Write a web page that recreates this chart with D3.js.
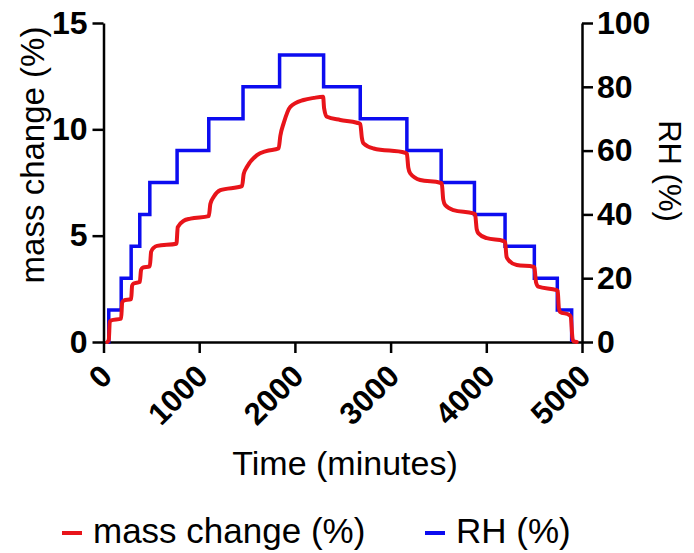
<!DOCTYPE html>
<html>
<head>
<meta charset="utf-8">
<script src="https://cdn.jsdelivr.net/npm/d3@7"></script>
<style>
  html, body { margin: 0; padding: 0; background: #fff; }
  svg { display: block; }
  text { font-family: Arial, "Liberation Sans", sans-serif; fill: #000; }
</style>
</head>
<body>
<div id="chart"></div>
<script>
// ---- data ----
const massTime  = [40, 55, 66, 80, 184, 195, 210, 289, 299, 315, 379, 393, 410, 484, 498, 530, 560, 762, 776, 839, 908, 1100, 1117, 1152, 1221, 1448, 1465, 1500, 1604, 1700, 1830, 1848, 1882, 1952, 2091, 2200, 2295, 2305, 2335, 2474, 2648, 2683, 2700, 2717, 2822, 3152, 3170, 3185, 3205, 3309, 3518, 3535, 3550, 3570, 3657, 3866, 3883, 3900, 3918, 4005, 4179, 4196, 4212, 4231, 4318, 4492, 4502, 4520, 4544, 4736, 4746, 4758, 4770, 4868, 4882, 4900, 4909, 4945];
const massValue = [0, 0.1, 0.95, 1.02, 1.1, 1.85, 1.95, 2.02, 2.65, 2.75, 2.82, 3.4, 3.5, 3.56, 4.25, 4.45, 4.52, 4.62, 5.4, 5.7, 5.8, 5.92, 6.5, 6.83, 7.14, 7.33, 7.9, 8.24, 8.79, 8.98, 9.1, 9.7, 10.28, 11.06, 11.38, 11.48, 11.53, 11.0, 10.59, 10.44, 10.31, 10.25, 9.6, 9.34, 9.1, 8.9, 8.85, 8.2, 7.93, 7.62, 7.49, 7.45, 6.7, 6.44, 6.2, 6.05, 6.0, 5.3, 5.11, 4.88, 4.75, 4.7, 4.0, 3.86, 3.62, 3.54, 3.5, 2.8, 2.6, 2.44, 2.4, 1.6, 1.42, 1.27, 1.2, 0.2, 0.05, 0];

const rhTime  = [50, 55, 185, 289, 379, 484, 769, 1100, 1458, 1840, 2300, 2683, 3170, 3528, 3876, 4196, 4502, 4742, 4892];
const rhValue = [0, 10, 20, 30, 40, 50, 60, 70, 80, 90, 80, 70, 60, 50, 40, 30, 20, 10, 0];

const xTickValues     = [0, 1000, 2000, 3000, 4000, 5000];
const leftTickValues  = [0, 5, 10, 15];
const rightTickValues = [0, 20, 40, 60, 80, 100];

const seriesNames = ["mass change (%)", "RH (%)"];
const xTitle = "Time (minutes)";
const leftTitle = "mass change (%)";
const rightTitle = "RH (%)";

// ---- layout ----
const W = 694, H = 553;
const plotL = 103.5, plotR = 582, plotT = 23, plotB = 342;
const RED = "#e8141a", BLUE = "#0c0cf0";
const FONT = "Arial, 'Liberation Sans', sans-serif";

const svg = d3.select("#chart").append("svg").attr("width", W).attr("height", H);

const x = d3.scaleLinear().domain([0, 5000]).range([plotL, plotR]);
const yL = d3.scaleLinear().domain([0, 15]).range([plotB, plotT]);
const yR = d3.scaleLinear().domain([0, 100]).range([plotB, plotT]);

// axes
const axW = 2.5;
function styleAxis(g) {
  g.select(".domain").attr("stroke", "#000").attr("stroke-width", axW);
  g.selectAll(".tick line").attr("stroke", "#000").attr("stroke-width", axW);
}

const gx = svg.append("g").attr("transform", `translate(0,${plotB})`)
  .call(d3.axisBottom(x).tickValues(xTickValues).tickSize(11).tickSizeOuter(0).tickFormat(d3.format("d")));
styleAxis(gx);
gx.selectAll(".tick text")
  .attr("x", 0).attr("y", 0).attr("dy", 0)
  .attr("transform", "translate(10,36) rotate(-45)")
  .style("text-anchor", "end")
  .style("font-size", "31px").style("font-weight", "bold")
  .style("font-family", FONT).attr("fill", "#000");

const gl = svg.append("g").attr("transform", `translate(${plotL},0)`)
  .call(d3.axisLeft(yL).tickValues(leftTickValues).tickSize(11).tickSizeOuter(0).tickPadding(5).tickFormat(d3.format("d")));
styleAxis(gl);
gl.selectAll(".tick text")
  .style("font-size", "32px").style("font-weight", "bold")
  .style("font-family", FONT).attr("fill", "#000");

const gr = svg.append("g").attr("transform", `translate(${plotR},0)`)
  .call(d3.axisRight(yR).tickValues(rightTickValues).tickSize(11).tickSizeOuter(0).tickPadding(4).tickFormat(d3.format("d")));
styleAxis(gr);
gr.selectAll(".tick text")
  .style("font-size", "32px").style("font-weight", "bold")
  .style("font-family", FONT).attr("fill", "#000");

// data lines
const massData = massTime.map((t, i) => ({ t, v: massValue[i] }));
const rhData = rhTime.map((t, i) => ({ t, v: rhValue[i] }));

svg.append("path")
  .datum(rhData)
  .attr("fill", "none").attr("stroke", BLUE).attr("stroke-width", 3.5)
  .attr("stroke-linejoin", "miter").attr("stroke-linecap", "butt")
  .attr("d", d3.line().x(d => x(d.t)).y(d => yR(d.v)).curve(d3.curveStepAfter));

svg.append("path")
  .datum(massData)
  .attr("fill", "none").attr("stroke", RED).attr("stroke-width", 4)
  .attr("stroke-linejoin", "round").attr("stroke-linecap", "round")
  .attr("d", d3.line().x(d => x(d.t)).y(d => yL(d.v)).curve(d3.curveMonotoneX));

// titles
svg.append("text")
  .attr("transform", `translate(44,155) rotate(-90)`)
  .attr("text-anchor", "middle").style("font-size", "33px")
  .text(leftTitle);

svg.append("text")
  .attr("transform", `translate(659,171) rotate(90)`)
  .attr("text-anchor", "middle").style("font-size", "31px")
  .text(rightTitle);

svg.append("text")
  .attr("x", 345).attr("y", 475)
  .attr("text-anchor", "middle").style("font-size", "34px")
  .text(xTitle);

// legend
const legendItems = [
  { name: seriesNames[0], color: RED, x0: 62 },
  { name: seriesNames[1], color: BLUE, x0: 425 }
];
const lg = svg.append("g");
legendItems.forEach(it => {
  lg.append("line")
    .attr("x1", it.x0).attr("x2", it.x0 + 20)
    .attr("y1", 533).attr("y2", 533)
    .attr("stroke", it.color).attr("stroke-width", 4);
  lg.append("text")
    .attr("x", it.x0 + 31).attr("y", 543)
    .style("font-size", "35px")
    .text(it.name);
});
</script>
</body>
</html>
